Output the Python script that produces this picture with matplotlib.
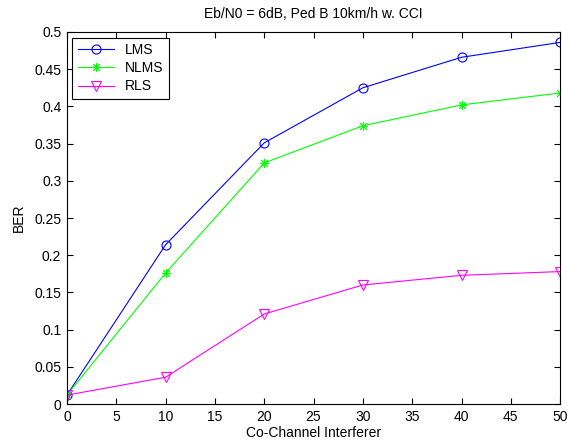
import matplotlib

matplotlib.use("Agg")
import matplotlib.pyplot as plt

plt.rcParams["font.family"] = ["Liberation Sans", "DejaVu Sans"]
plt.rcParams["font.size"] = 10

interferers = [0, 10, 20, 30, 40, 50]
ber_lms = [0.012, 0.214, 0.351, 0.425, 0.466, 0.486]
ber_nlms = [0.012, 0.176, 0.324, 0.374, 0.402, 0.418]
ber_rls = [0.012, 0.036, 0.121, 0.160, 0.173, 0.178]

fig = plt.figure(figsize=(5.67, 4.44), dpi=100)
ax = fig.add_axes([0.118, 0.090, 0.870, 0.838])

ax.plot(interferers, ber_lms, color="blue", lw=0.8, marker="o", ms=6.5,
        mfc="none", mew=0.8, label="LMS")
ax.plot(interferers, ber_nlms, color="#00ff00", lw=0.8, marker=(8, 2, 0),
        ms=6.5, mew=0.7, label="NLMS")
ax.plot(interferers, ber_rls, color="magenta", lw=0.8, marker="v", ms=7,
        mfc="none", mew=0.8, label="RLS")

ax.set_xlim(0, 50)
ax.set_ylim(0, 0.5)
ax.set_xticks(range(0, 51, 5))
ax.set_yticks([0, 0.05, 0.1, 0.15, 0.2, 0.25, 0.3, 0.35, 0.4, 0.45, 0.5])
ax.set_yticklabels(["0", "0.05", "0.1", "0.15", "0.2", "0.25", "0.3",
                    "0.35", "0.4", "0.45", "0.5"])
ax.tick_params(direction="in", top=True, right=True, length=4, width=0.8,
               pad=4)
for s in ax.spines.values():
    s.set_linewidth(0.8)

ax.set_xlabel("Co-Channel Interferer", labelpad=2)
ax.set_ylabel("BER", labelpad=6)
ax.set_title("Eb/N0 = 6dB, Ped B 10km/h w. CCI", fontsize=10, pad=10)

leg = ax.legend(loc="upper left", fancybox=False, edgecolor="black",
                framealpha=1, borderaxespad=0.4, handlelength=2.6,
                labelspacing=0.3, borderpad=0.4)
leg.get_frame().set_linewidth(0.8)

fig.savefig("out.png", dpi=100)
